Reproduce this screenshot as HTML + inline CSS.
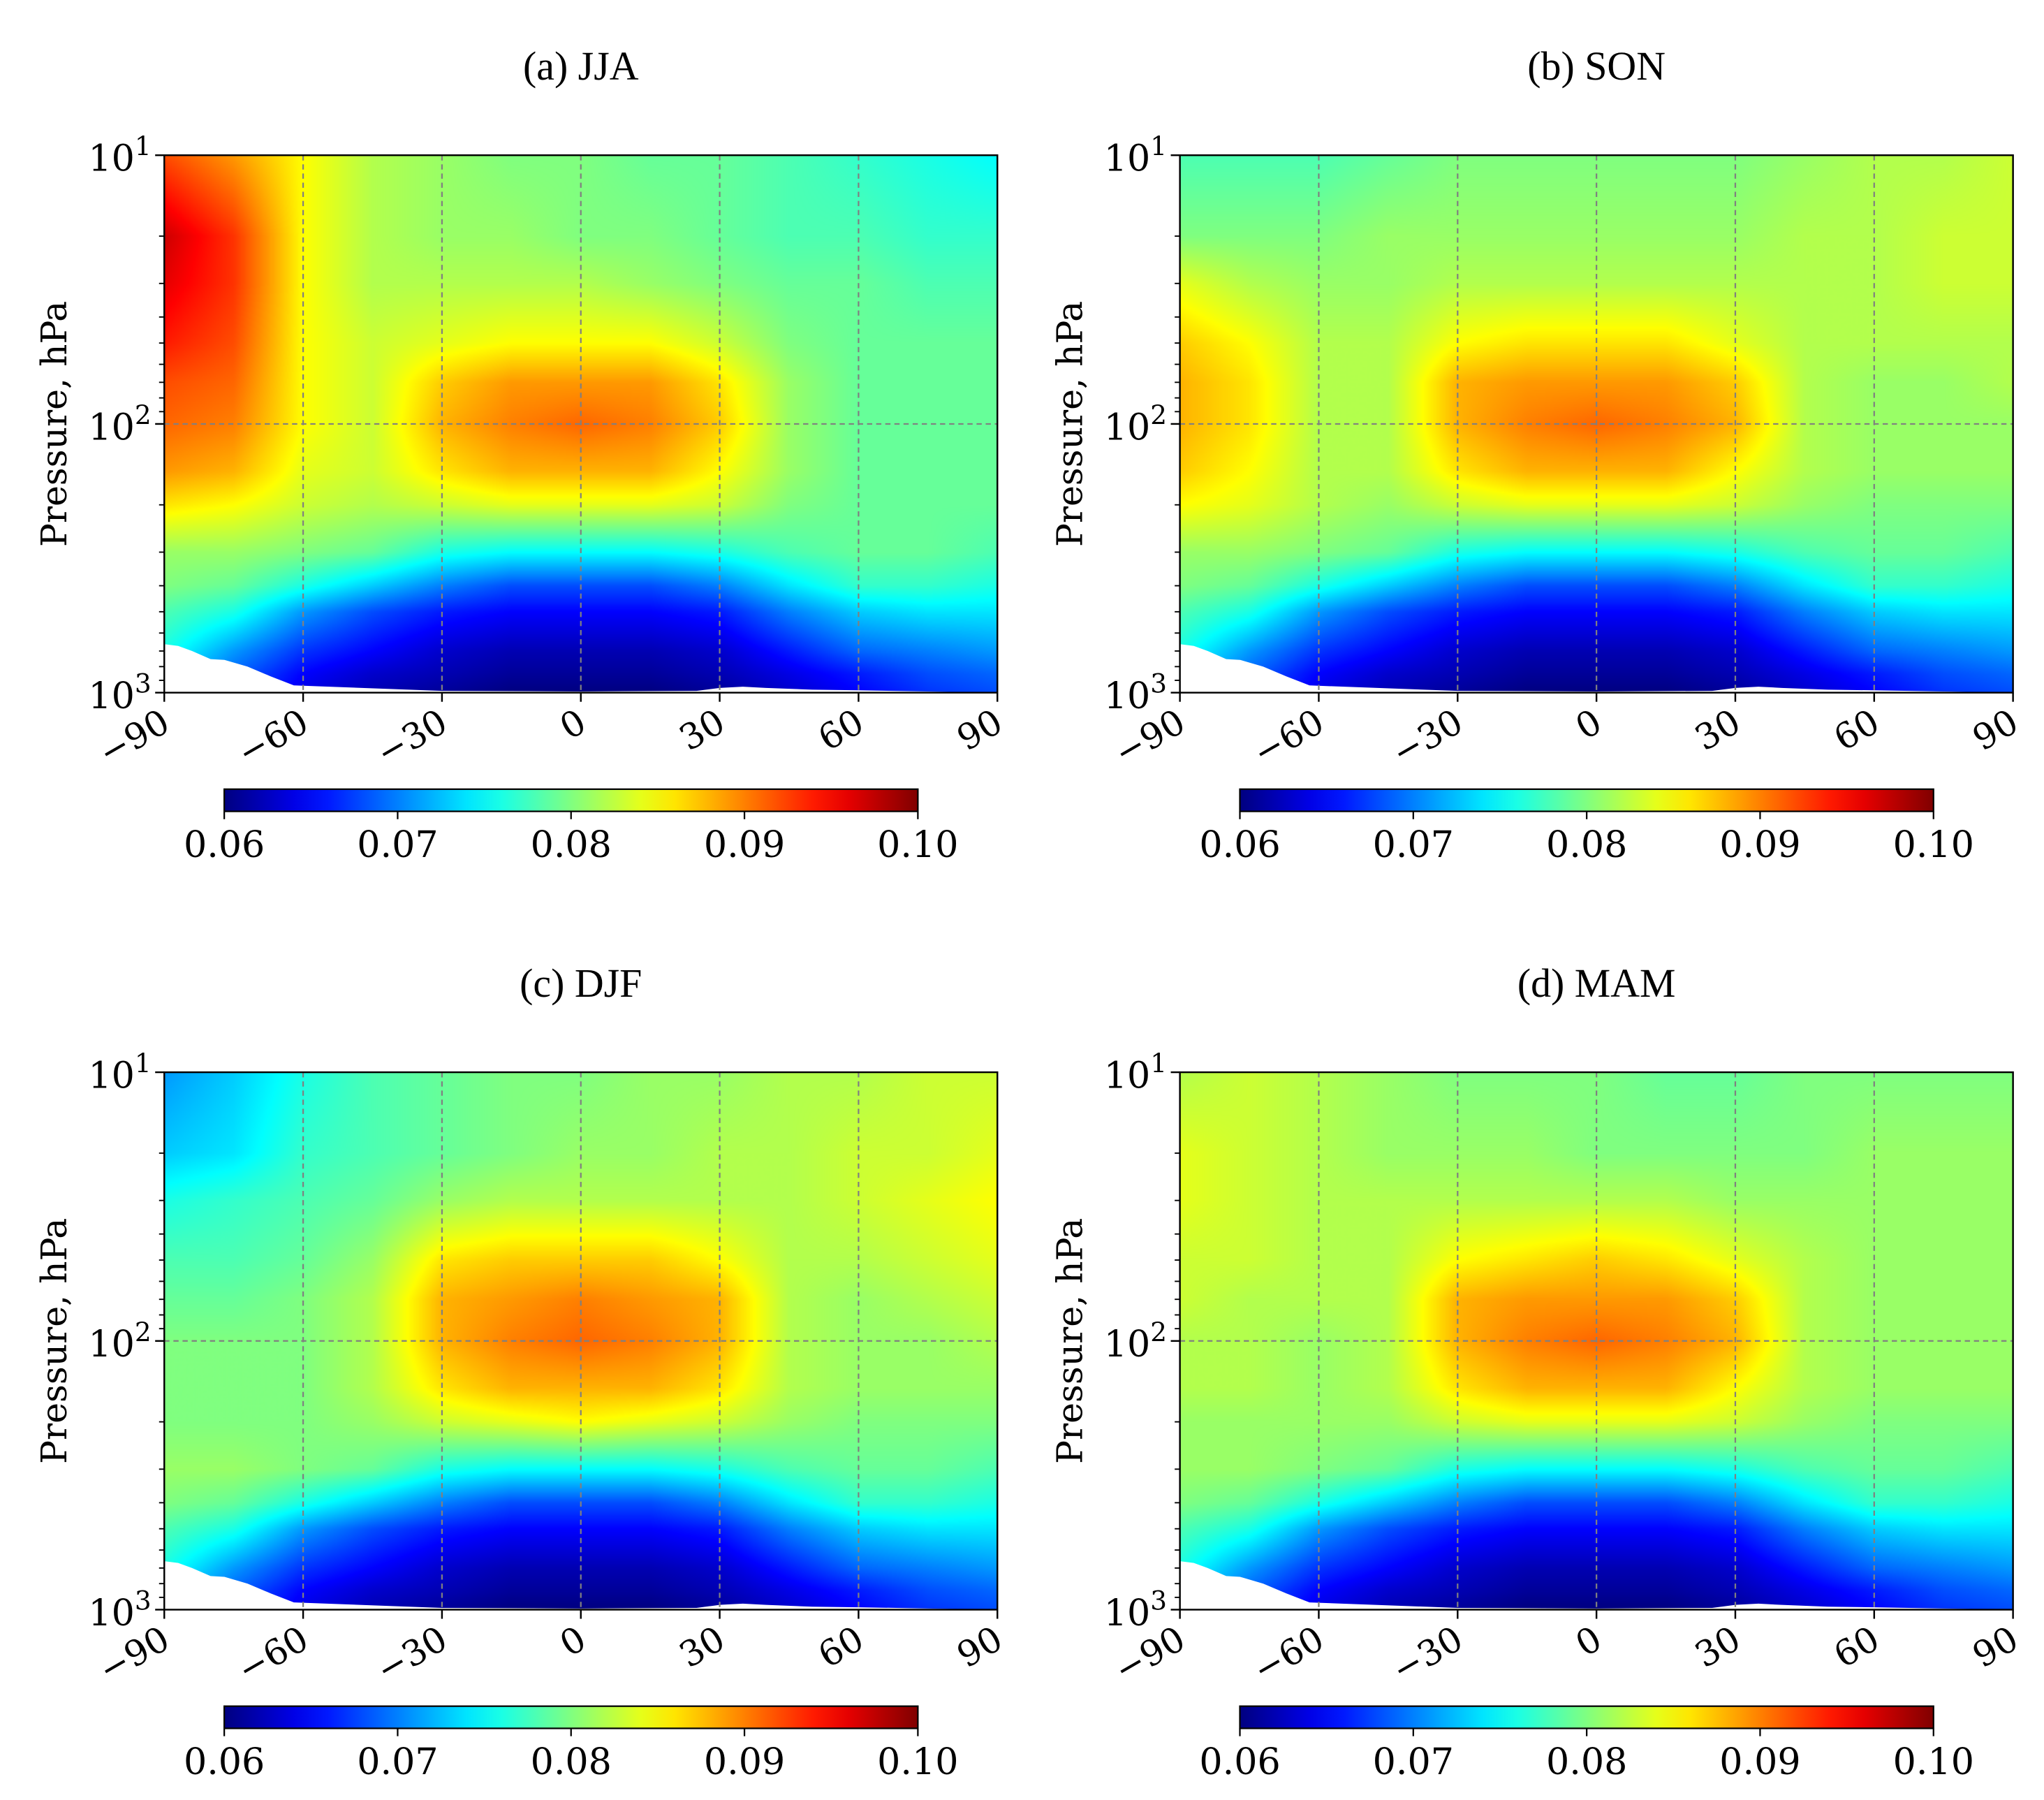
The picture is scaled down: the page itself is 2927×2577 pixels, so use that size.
<!DOCTYPE html>
<html><head><meta charset="utf-8">
<style>
html,body{margin:0;padding:0;background:#fff;}
#wrap{position:absolute;left:0;top:0;width:1570px;height:1380px;transform:scale(1.867,1.8675);transform-origin:0 0;overflow:hidden;}
canvas{position:absolute;}
svg{position:absolute;left:0;top:0;}
text{font-family:"DejaVu Serif","Liberation Serif",serif;fill:#000;}
text.tt{font-family:"Liberation Serif","DejaVu Serif",serif;}
</style></head>
<body>
<div id="wrap">
<canvas id="cv0" width="640" height="412" style="left:126px;top:119px;width:639px;height:412px"></canvas>
<canvas id="cv1" width="640" height="412" style="left:905px;top:119px;width:639px;height:412px"></canvas>
<canvas id="cv2" width="640" height="412" style="left:126px;top:822px;width:639px;height:412px"></canvas>
<canvas id="cv3" width="640" height="412" style="left:905px;top:822px;width:639px;height:412px"></canvas>
<svg id="svg" width="1570" height="1380" viewBox="0 0 1570 1380"></svg>
</div>
<script>
const lats=[-90,-75,-60,-45,-30,-15,0,15,30,45,60,75,90];
const levels=[10,20,30,50,70,100,150,200,300,400,500,700,850,1000];
const lower=[
[0.081,0.081,0.080,0.079,0.076,0.075,0.075,0.075,0.076,0.078,0.079,0.079,0.078],
[0.080,0.079,0.076,0.073,0.070,0.068,0.068,0.068,0.070,0.074,0.077,0.077,0.076],
[0.078,0.076,0.071,0.068,0.066,0.065,0.065,0.065,0.066,0.070,0.073,0.074,0.074],
[0.076,0.071,0.067,0.065,0.063,0.062,0.062,0.062,0.063,0.066,0.069,0.070,0.071],
[0.074,0.069,0.065,0.063,0.062,0.061,0.061,0.061,0.062,0.064,0.066,0.068,0.069],
[0.073,0.068,0.064,0.062,0.061,0.060,0.060,0.060,0.061,0.063,0.065,0.067,0.068]];
const jja=[
[0.092,0.089,0.085,0.082,0.081,0.080,0.080,0.079,0.079,0.078,0.077,0.076,0.075],
[0.097,0.093,0.085,0.082,0.081,0.081,0.080,0.080,0.079,0.078,0.078,0.077,0.077],
[0.096,0.093,0.085,0.082,0.082,0.082,0.082,0.081,0.080,0.079,0.079,0.078,0.078],
[0.094,0.092,0.085,0.083,0.084,0.085,0.085,0.085,0.083,0.080,0.079,0.079,0.079],
[0.092,0.091,0.085,0.083,0.087,0.089,0.089,0.089,0.086,0.081,0.079,0.079,0.079],
[0.091,0.090,0.085,0.083,0.088,0.090,0.091,0.090,0.087,0.081,0.079,0.079,0.079],
[0.089,0.088,0.084,0.083,0.086,0.088,0.088,0.088,0.085,0.081,0.079,0.079,0.079],
[0.086,0.085,0.083,0.082,0.083,0.084,0.084,0.084,0.083,0.080,0.079,0.079,0.079]].concat(lower);
const son=[
[0.078,0.078,0.078,0.079,0.080,0.080,0.080,0.080,0.080,0.081,0.082,0.082,0.083],
[0.080,0.080,0.080,0.081,0.081,0.081,0.081,0.081,0.081,0.082,0.082,0.083,0.083],
[0.084,0.082,0.081,0.081,0.082,0.082,0.082,0.082,0.082,0.082,0.082,0.083,0.083],
[0.087,0.085,0.082,0.082,0.085,0.086,0.086,0.086,0.084,0.082,0.082,0.082,0.082],
[0.088,0.086,0.082,0.082,0.088,0.089,0.089,0.089,0.087,0.082,0.081,0.081,0.082],
[0.088,0.086,0.082,0.082,0.088,0.090,0.091,0.090,0.088,0.082,0.081,0.081,0.081],
[0.087,0.085,0.082,0.082,0.086,0.088,0.088,0.088,0.085,0.082,0.081,0.081,0.081],
[0.085,0.084,0.082,0.081,0.083,0.084,0.084,0.084,0.083,0.081,0.080,0.080,0.080]].concat(lower);
const djf=[
[0.071,0.073,0.076,0.078,0.079,0.080,0.080,0.081,0.081,0.082,0.082,0.083,0.083],
[0.073,0.074,0.077,0.078,0.079,0.080,0.081,0.081,0.082,0.082,0.083,0.083,0.084],
[0.076,0.077,0.078,0.079,0.081,0.082,0.082,0.082,0.082,0.082,0.083,0.084,0.085],
[0.078,0.078,0.079,0.081,0.086,0.087,0.087,0.087,0.085,0.082,0.082,0.083,0.084],
[0.079,0.079,0.080,0.082,0.088,0.089,0.090,0.089,0.088,0.082,0.081,0.082,0.083],
[0.080,0.080,0.080,0.082,0.088,0.090,0.091,0.090,0.088,0.082,0.081,0.081,0.082],
[0.080,0.080,0.080,0.082,0.086,0.088,0.088,0.088,0.086,0.082,0.081,0.081,0.081],
[0.080,0.080,0.080,0.081,0.083,0.084,0.085,0.084,0.083,0.081,0.080,0.080,0.080]].concat(lower);
const mam=[
[0.082,0.083,0.082,0.081,0.080,0.080,0.080,0.079,0.079,0.080,0.080,0.080,0.080],
[0.084,0.083,0.082,0.081,0.081,0.081,0.080,0.080,0.080,0.080,0.081,0.081,0.081],
[0.084,0.083,0.082,0.082,0.082,0.082,0.082,0.082,0.081,0.081,0.081,0.081,0.081],
[0.083,0.083,0.082,0.082,0.085,0.086,0.087,0.086,0.084,0.082,0.081,0.081,0.081],
[0.083,0.082,0.082,0.082,0.088,0.089,0.089,0.089,0.087,0.082,0.081,0.081,0.081],
[0.082,0.082,0.081,0.082,0.088,0.090,0.091,0.090,0.088,0.082,0.081,0.081,0.081],
[0.082,0.082,0.081,0.082,0.086,0.088,0.088,0.088,0.085,0.082,0.081,0.081,0.081],
[0.081,0.081,0.081,0.081,0.083,0.084,0.084,0.084,0.083,0.081,0.080,0.080,0.080]].concat(lower);
const titles=["(a) JJA","(b) SON","(c) DJF","(d) MAM"];
const xTicks=[-90,-60,-30,0,30,60,90];
const xTickLabels=["\u221290","\u221260","\u221230","0","30","60","90"];
const cbTicks=[0.06,0.07,0.08,0.09,0.10];
const cbTickLabels=["0.06","0.07","0.08","0.09","0.10"];
const terrainLat=[-90,-87,-84,-80,-77,-72,-67,-62,-30,0,25,30,35,40,50,60,75,90];
const terrainP=[660,670,700,750,755,800,870,940,985,990,985,960,950,960,975,980,990,1000];

const W=639,H=412,VMIN=0.06,VMAX=0.10;
const panels=[{x:126,y:119,d:jja},{x:905,y:119,d:son},{x:126,y:822,d:djf},{x:905,y:822,d:mam}];
function jet(t){t=Math.max(0,Math.min(1,t));
 const r=Math.min(Math.max(Math.min(4*t-1.5,-4*t+4.5),0),1);
 const g=Math.min(Math.max(Math.min(4*t-0.5,-4*t+3.5),0),1);
 const b=Math.min(Math.max(Math.min(4*t+0.5,-4*t+2.5),0),1);
 return [r*255,g*255,b*255];}
function xs(lat){return (lat+90)/180*W;}
function ys(p){return (Math.log10(p)-1)/2*H;}
const logL=levels.map(p=>Math.log10(p));
function sample(d,lat,lp){
 let i=Math.min(lats.length-2,Math.max(0,Math.floor((lat+90)/15)));let fx=(lat-lats[i])/15;
 let j=0;while(j<logL.length-2&&lp>logL[j+1])j++;
 let fy=(lp-logL[j])/(logL[j+1]-logL[j]);fy=Math.max(0,Math.min(1,fy));
 const a=d[j][i],b=d[j][i+1],c=d[j+1][i],e=d[j+1][i+1];
 return a*(1-fx)*(1-fy)+b*fx*(1-fy)+c*(1-fx)*fy+e*fx*fy;}
panels.forEach((P,k)=>{
 const cv=document.getElementById('cv'+k),ctx=cv.getContext('2d');
 const img=ctx.createImageData(640,412);
 for(let y=0;y<412;y++){const lp=1+2*(y+0.5)/412;
  for(let x=0;x<640;x++){const lat=-90+180*(x+0.5)/640;
   const v=sample(P.d,lat,lp);const c=jet((v-VMIN)/(VMAX-VMIN));const o=(y*640+x)*4;
   img.data[o]=c[0];img.data[o+1]=c[1];img.data[o+2]=c[2];img.data[o+3]=255;}}
 ctx.putImageData(img,0,0);
});
const NS="http://www.w3.org/2000/svg";const svg=document.getElementById('svg');
function el(tag,attrs,parent){const e=document.createElementNS(NS,tag);for(const k in attrs)e.setAttribute(k,attrs[k]);(parent||svg).appendChild(e);return e;}
const defs=el('defs',{});
const lg=el('linearGradient',{id:'jetg',x1:'0',x2:'1',y1:'0',y2:'0'},defs);
for(let i=0;i<=20;i++){const c=jet(i/20);el('stop',{offset:(i/20),'stop-color':`rgb(${c.map(Math.round).join(',')})`},lg);}
const names=['jja','son','djf','mam'];
panels.forEach((P,k)=>{
 const g=el('g',{transform:`translate(${P.x},${P.y})`});
 
 
 let pts=terrainLat.map((l,i)=>`${xs(l)},${ys(terrainP[i])}`);
 pts.push(`${W},${H}`,`0,${H}`);
 const tr=el('polygon',{points:pts.join(' '),fill:'#fff'},g);
 
 
 xTicks.slice(1,-1).forEach(t=>{const l=el('line',{x1:xs(t),x2:xs(t),y1:0,y2:H,stroke:'#808080','stroke-width':1.2,'stroke-dasharray':'4,3'},g);
  
  });
 const hl=el('line',{x1:0,x2:W,y1:ys(100),y2:ys(100),stroke:'#808080','stroke-width':1.2,'stroke-dasharray':'4,3'},g);
 
 
 const fr=el('rect',{x:0,y:0,width:W,height:H,fill:'none',stroke:'#000','stroke-width':1.3},g);
 
 
 xTicks.forEach((t,i)=>{el('line',{x1:xs(t),x2:xs(t),y1:H,y2:H+7,stroke:'#000','stroke-width':1.3},g);
  const tx=el('text',{x:0,y:0,'font-size':27,'text-anchor':'end',transform:`translate(${xs(t)+6},${H+28}) rotate(-30)`},g);
  tx.textContent=xTickLabels[i];
  
  });
 [1,2,3].forEach(e=>{const y=ys(Math.pow(10,e));el('line',{x1:-7,x2:0,y1:y,y2:y,stroke:'#000','stroke-width':1.3},g);
  const tx=el('text',{x:-10,y:y+12,'font-size':28,'text-anchor':'end'},g);
  
  
  tx.appendChild(document.createTextNode('10'));const sp=el('tspan',{dy:-12,'font-size':20},tx);sp.textContent=String(e);});
 for(let e=1;e<3;e++)for(let m=2;m<10;m++){const y=ys(m*Math.pow(10,e));el('line',{x1:-4,x2:0,y1:y,y2:y,stroke:'#000','stroke-width':1},g);}
 const ti=el('text',{x:W/2,y:-58,'font-size':31,'text-anchor':'middle','class':'tt'},g);ti.textContent=titles[k];
 
 
 const yl=el('text',{x:0,y:0,'font-size':27,'text-anchor':'middle',transform:`translate(-75,${H/2}) rotate(-90)`},g);yl.textContent='Pressure, hPa';
 
 
 const cg=el('g',{transform:`translate(${P.x+46},${P.y+486})`});
 
 
 el('rect',{x:0,y:0,width:532,height:17,fill:'url(#jetg)',stroke:'#000','stroke-width':1.2},cg);
 cbTicks.forEach((t,i)=>{const x=(t-VMIN)/(VMAX-VMIN)*532;el('line',{x1:x,x2:x,y1:17,y2:23,stroke:'#000','stroke-width':1.2},cg);
  const tx=el('text',{x:x,y:52,'font-size':28,'text-anchor':'middle'},cg);tx.textContent=cbTickLabels[i];
  
  });
});
</script>
</body></html>
